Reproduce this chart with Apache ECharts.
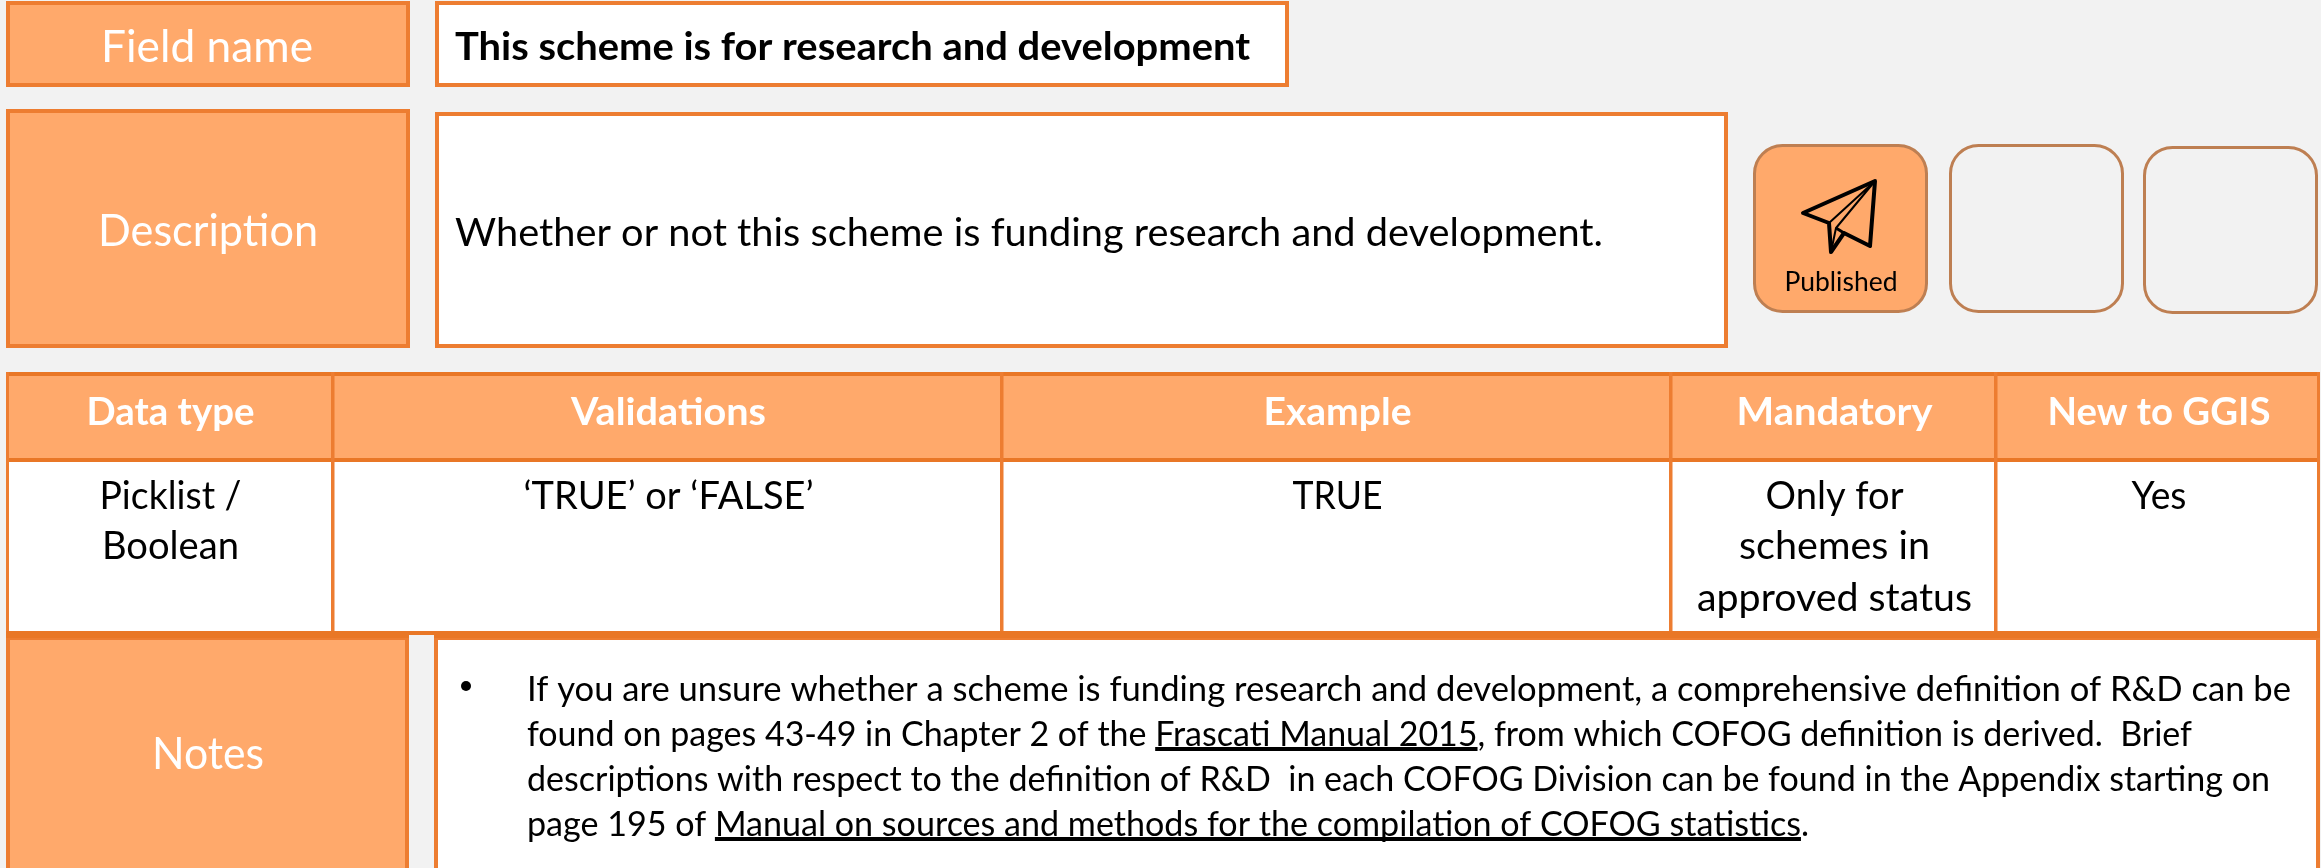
<!DOCTYPE html>
<html>
<head>
<meta charset="utf-8">
<script src="https://cdn.jsdelivr.net/npm/echarts@6/dist/echarts.min.js"></script>
<style>
  html, body { margin: 0; padding: 0; background: #f2f2f2; }
  #main { width: 2321px; height: 868px; }
</style>
</head>
<body>
<div id="main"></div>
<script type="text/javascript">
var fieldLabels = ['Field name', 'Description', 'Notes'];
var fieldName = 'This scheme is for research and development';
var description = 'Whether or not this scheme is funding research and development.';
var statusLabel = 'Published';
var tableHeaders = ['Data type', 'Validations', 'Example', 'Mandatory', 'New to GGIS'];
var tableCells = [
  ['Picklist /', 'Boolean'],
  ['\u2018TRUE\u2019 or \u2018FALSE\u2019'],
  ['TRUE'],
  ['Only for', 'schemes in', 'approved status'],
  ['Yes']
];
var noteLines = [
  ['If you are unsure whether a scheme is funding research and development, a comprehensive definition of R&D can be'],
  ['found on pages 43-49 in Chapter 2 of the ', 'Frascati Manual 2015', ', from which COFOG definition is derived.  Brief'],
  ['descriptions with respect to the definition of R&D  in each COFOG Division can be found in the Appendix starting on'],
  ['page 195 of ', 'Manual on sources and methods for the compilation of COFOG statistics', '.']
];

var FONT = 'Lato, "Open Sans", sans-serif';
var ORANGE = '#ed7d31', DARK = '#e97726', FILL = '#ffa96b', BROWN = '#be7f52', INK = '#000000';
var ctx = document.createElement('canvas').getContext('2d');
var g = [];

function measure(str, size, weight) {
  ctx.font = (weight || 'normal') + ' ' + size + 'px Lato';
  return ctx.measureText(str).width;
}
// box given by its outer edges
function box(x0, y0, x1, y1, fill, stroke, lw, r) {
  g.push({
    type: 'rect', silent: true,
    shape: { x: x0 + lw / 2, y: y0 + lw / 2, width: x1 - x0 - lw, height: y1 - y0 - lw, r: r || 0 },
    style: { fill: fill, stroke: stroke, lineWidth: lw }
  });
}
function bar(x0, y0, x1, y1, fill) {
  g.push({ type: 'rect', silent: true, shape: { x: x0, y: y0, width: x1 - x0, height: y1 - y0 }, style: { fill: fill } });
}
// width: target width in px, text gets stretched horizontally to reach it
function label(str, x, y, size, color, align, weight, width) {
  var sx = width ? width / measure(str, size, weight) : 1;
  g.push({
    type: 'text', silent: true, x: x, y: y, scaleX: sx,
    style: { text: str, x: 0, y: 0, fill: color, font: (weight || 'normal') + ' ' + size + 'px ' + FONT, align: align || 'left', verticalAlign: 'middle' }
  });
}

// field name row
box(6, 1, 410, 87, FILL, ORANGE, 4);
box(435, 1, 1289, 87, '#ffffff', ORANGE, 4);
label(fieldLabels[0], 207, 48, 44, '#ffffff', 'center', 'normal', 212);
label(fieldName, 455, 47, 39, INK, 'left', 'bold', 795);

// description row
box(6, 109, 410, 348, FILL, ORANGE, 4);
box(435, 112, 1728, 348, '#ffffff', ORANGE, 4);
label(fieldLabels[1], 208, 232, 44, '#ffffff', 'center', 'normal', 220);
label(description, 455, 233, 39, INK, 'left', 'normal', 1148);

// status tiles
box(1753, 144, 1928, 313, FILL, BROWN, 3, 28);
box(1949, 144, 2124, 313, 'transparent', BROWN, 3, 28);
box(2143, 146, 2318, 314, 'transparent', BROWN, 3, 28);
label(statusLabel, 1841, 282, 27, INK, 'center', 'normal', 113);
g.push({ type: 'polygon', silent: true, shape: { points: [[1875, 181], [1803, 213], [1829, 223], [1831, 252], [1844, 233], [1870, 246]] }, style: { fill: 'none', stroke: INK, lineWidth: 4, lineJoin: 'round' } });
g.push({ type: 'polyline', silent: true, shape: { points: [[1829, 223], [1875, 181], [1836, 228], [1831, 252]] }, style: { fill: 'none', stroke: INK, lineWidth: 2 } });
g.push({ type: 'polyline', silent: true, shape: { points: [[1836, 228], [1844, 233]] }, style: { fill: 'none', stroke: INK, lineWidth: 3 } });

// table
var colEdges = [6, 333, 1002, 1671, 1996, 2320];
var headerWidths = [168, 195, 148, 196, 223];
var cellWidths = [[142, 137], [290], [90], [138, 191, 275], [55]];
bar(6, 372, 2320, 459, FILL);
bar(6, 459, 2320, 633, '#ffffff');
bar(6, 372, 2320, 376, DARK);
bar(6, 458, 2320, 462, DARK);
bar(6, 372, 9, 635, ORANGE);
bar(2317, 372, 2320, 635, ORANGE);
colEdges.slice(1, 5).forEach(function (x) { bar(x - 2, 372, x + 1.5, 633, ORANGE); });
var rowY = [497, 547, 599];
tableHeaders.forEach(function (h, i) {
  var cx = (colEdges[i] + colEdges[i + 1]) / 2 + 1;
  label(h, cx, 413, 38, '#ffffff', 'center', 'bold', headerWidths[i]);
  tableCells[i].forEach(function (t, j) {
    label(t, cx, rowY[j], 38, INK, 'center', 'normal', cellWidths[i][j]);
  });
});

// notes row
box(6, 636, 409, 880, FILL, ORANGE, 4);
bar(409, 635, 434, 868, '#f2f2f2');
box(434, 636, 2320, 880, '#ffffff', ORANGE, 4);
bar(6, 631, 2320, 638, DARK);
bar(409, 635, 434, 868, '#f2f2f2');
label(fieldLabels[2], 208, 755, 44, '#ffffff', 'center', 'normal', 112);
g.push({ type: 'circle', silent: true, shape: { cx: 466, cy: 686, r: 5 }, style: { fill: INK } });

var noteY = [690, 735, 780, 825];
var noteUnderline = [0, 747, 0, 837];
var noteEnd = [2291, 2192, 2270, 1809];
var noteStart = 527, noteSize = 34;
noteLines.forEach(function (runs, i) {
  var full = runs.join('');
  var scale = (noteEnd[i] - noteStart) / measure(full, noteSize);
  label(full, noteStart, noteY[i], noteSize, INK, 'left', 'normal', noteEnd[i] - noteStart);
  if (runs.length > 1) {
    var u0 = noteStart + measure(runs[0], noteSize) * scale;
    var u1 = u0 + measure(runs[1], noteSize) * scale;
    bar(u0, noteUnderline[i], u1, noteUnderline[i] + 4, INK);
  }
});

var myChart = echarts.init(document.getElementById('main'));
myChart.setOption({
  backgroundColor: '#f2f2f2',
  animation: false,
  graphic: { elements: g }
});
</script>
</body>
</html>
